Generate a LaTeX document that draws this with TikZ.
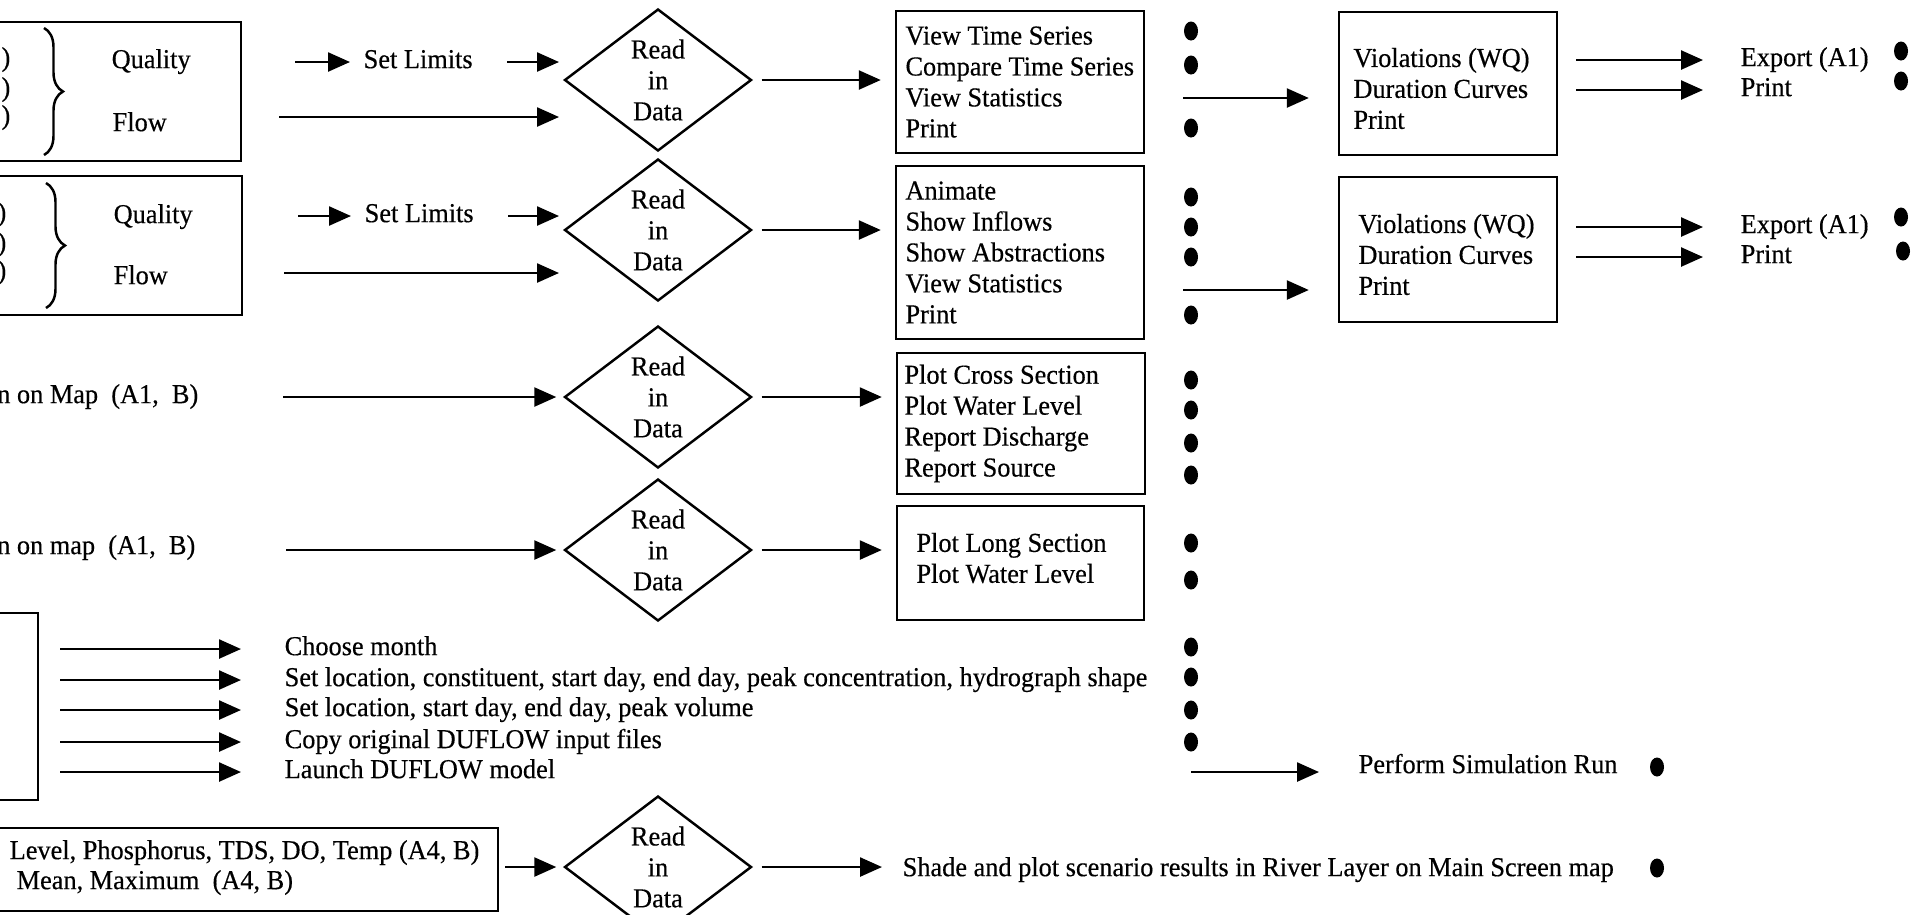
\documentclass[tikz,border=0pt]{standalone}
\usepackage{fontspec}
\setmainfont{Liberation Serif}[FakeStretch=0.96, FakeBold=0.4]
\usetikzlibrary{arrows.meta, shapes.geometric, decorations.pathreplacing}
\tikzset{
    every node/.style={font=\fontsize{7.8}{8.8}\selectfont},
    box/.style={draw, rectangle, line width=0.7pt, inner sep=0pt},
    choice/.style={draw, diamond, line width=0.7pt, inner sep=0pt,
        minimum width=1.87cm, minimum height=1.42cm, align=center},
    item/.style={inner sep=0pt, anchor=west, align=left},
    lbl/.style={inner sep=0pt, anchor=west, text height=5pt, text depth=1.5pt},
    bullet/.style={ellipse, fill, inner sep=0pt, minimum width=0.14cm,
        minimum height=0.19cm},
    arr/.style={-{Triangle[length=0.22cm, width=0.19cm]}, line width=0.7pt},
    curly/.style={decorate, decoration={brace, amplitude=0.19cm}, line width=0.7pt}
}

\begin{document}
\begin{tikzpicture}
  \useasboundingbox (0cm, 0cm) rectangle (19.12cm, -9.14cm);
  \clip (0cm, 0cm) rectangle (19.12cm, -9.14cm);

  % input boxes on the left
  \node (b1) [box, minimum width=2.61cm, minimum height=1.39cm] at (1.105cm, -0.915cm) {};
  \node (b2) [box, minimum width=2.62cm, minimum height=1.39cm] at (1.11cm, -2.455cm) {};
  \node (bE) [box, minimum width=0.58cm, minimum height=1.87cm] at (0.09cm, -7.065cm) {};
  \node (bF) [box, minimum width=5.18cm, minimum height=0.83cm] at (2.39cm, -8.695cm) {};

  \node (p1) [lbl, anchor=east] at (0.11cm, -0.60cm) {)};
  \node (p2) [lbl, anchor=east] at (0.11cm, -0.90cm) {)};
  \node (p3) [lbl, anchor=east] at (0.11cm, -1.18cm) {)};
  \node (p4) [lbl, anchor=east] at (0.07cm, -2.15cm) {)};
  \node (p5) [lbl, anchor=east] at (0.07cm, -2.45cm) {)};
  \node (p6) [lbl, anchor=east] at (0.07cm, -2.73cm) {)};
  \draw[curly] (0.44cm, -0.28cm) -- (0.44cm, -1.55cm);
  \draw[curly] (0.46cm, -1.83cm) -- (0.46cm, -3.08cm);
  \node (q1) [lbl] at (1.11cm, -0.62cm) {Quality};
  \node (f1) [lbl] at (1.12cm, -1.25cm) {Flow};
  \node (q2) [lbl] at (1.13cm, -2.17cm) {Quality};
  \node (f2) [lbl] at (1.13cm, -2.78cm) {Flow};

  \node (m3) [lbl, anchor=east] at (1.99cm, -3.97cm) {n on Map~ (A1,~ B)};
  \node (m4) [lbl, anchor=east] at (1.96cm, -5.48cm) {n on map~ (A1,~ B)};

  \node (w1) [lbl] at (0.09cm, -8.53cm) {Level, Phosphorus, TDS, DO, Temp (A4, B)};
  \node (w2) [lbl] at (0.16cm, -8.83cm) {Mean, Maximum~ (A4, B)};

  % set limits
  \node (sl1) [lbl] at (3.63cm, -0.62cm) {Set Limits};
  \node (sl2) [lbl] at (3.64cm, -2.16cm) {Set Limits};
  \coordinate (s1) at (2.95cm, -0.62cm);
  \coordinate (s2) at (2.98cm, -2.16cm);
  \coordinate (e1) at (5.59cm, -0.62cm);
  \coordinate (e2) at (5.59cm, -2.16cm);
  \coordinate (fs1) at (2.79cm, -1.17cm);
  \coordinate (fe1) at (5.59cm, -1.17cm);
  \coordinate (fs2) at (2.84cm, -2.73cm);
  \coordinate (fe2) at (5.59cm, -2.73cm);
  \coordinate (c3) at (2.83cm, -3.97cm);
  \coordinate (c4) at (2.86cm, -5.50cm);

  % read in data
  \node (d1) [choice] at (6.58cm, -0.80cm) {Read\\in\\Data};
  \node (d2) [choice] at (6.58cm, -2.30cm) {Read\\in\\Data};
  \node (d3) [choice] at (6.58cm, -3.97cm) {Read\\in\\Data};
  \node (d4) [choice] at (6.58cm, -5.50cm) {Read\\in\\Data};
  \node (d6) [choice] at (6.58cm, -8.67cm) {Read\\in\\Data};

  % option boxes
  \node (bA) [box, minimum width=2.48cm, minimum height=1.42cm] at (10.20cm, -0.82cm) {};
  \node (bB) [box, minimum width=2.48cm, minimum height=1.73cm] at (10.20cm, -2.525cm) {};
  \node (bC) [box, minimum width=2.48cm, minimum height=1.41cm] at (10.21cm, -4.235cm) {};
  \node (bD) [box, minimum width=2.47cm, minimum height=1.14cm] at (10.205cm, -5.63cm) {};
  \node (tA) [item] at ([xshift=0.10cm]bA.west) {View Time Series\\Compare Time Series\\View Statistics\\Print};
  \node (tB) [item] at ([xshift=0.10cm]bB.west) {Animate\\Show Inflows\\Show Abstractions\\View Statistics\\Print};
  \node (tC) [item] at ([xshift=0.08cm]bC.west) {Plot Cross Section\\Plot Water Level\\Report Discharge\\Report Source};
  \node (tD) [item] at ([xshift=0.20cm, yshift=0.05cm]bD.west) {Plot Long Section\\Plot Water Level};

  \node (bV1) [box, minimum width=2.18cm, minimum height=1.43cm] at (14.48cm, -0.835cm) {};
  \node (bV2) [box, minimum width=2.18cm, minimum height=1.45cm] at (14.48cm, -2.495cm) {};
  \node (tV1) [item] at ([xshift=0.15cm, yshift=-0.05cm]bV1.west) {Violations (WQ)\\Duration Curves\\Print};
  \node (tV2) [item] at ([xshift=0.20cm, yshift=-0.05cm]bV2.west) {Violations (WQ)\\Duration Curves\\Print};

  \node (x1) [lbl] at (17.40cm, -0.60cm) {Export (A1)};
  \node (x2) [lbl] at (17.40cm, -0.90cm) {Print};
  \node (x3) [lbl] at (17.40cm, -2.27cm) {Export (A1)};
  \node (x4) [lbl] at (17.40cm, -2.57cm) {Print};

  % scenario settings
  \node (m1) [lbl] at (2.84cm, -6.49cm) {Choose month};
  \node (m2) [lbl] at (2.84cm, -6.80cm) {Set location, constituent, start day, end day, peak concentration, hydrograph shape};
  \node (m5) [lbl] at (2.84cm, -7.10cm) {Set location, start day, end day, peak volume};
  \node (m6) [lbl] at (2.84cm, -7.42cm) {Copy original DUFLOW input files};
  \node (m7) [lbl] at (2.84cm, -7.72cm) {Launch DUFLOW model};
  \node (run) [lbl] at (13.58cm, -7.67cm) {Perform Simulation Run};
  \node (sh) [lbl] at (9.02cm, -8.70cm) {Shade and plot scenario results in River Layer on Main Screen map};

  % bullets
  \node (a1) [bullet] at (11.91cm, -0.31cm) {}; \node (a2) [bullet] at (11.91cm, -0.65cm) {};
  \node (a3) [bullet] at (11.91cm, -1.28cm) {};
  \node (a4) [bullet] at (11.91cm, -1.97cm) {}; \node (a5) [bullet] at (11.91cm, -2.27cm) {};
  \node (a6) [bullet] at (11.91cm, -2.57cm) {}; \node (a7) [bullet] at (11.91cm, -3.15cm) {};
  \node (a8) [bullet] at (11.91cm, -3.80cm) {}; \node (a9) [bullet] at (11.91cm, -4.10cm) {};
  \node (a10) [bullet] at (11.91cm, -4.43cm) {}; \node (a11) [bullet] at (11.91cm, -4.75cm) {};
  \node (a12) [bullet] at (11.91cm, -5.43cm) {}; \node (a13) [bullet] at (11.91cm, -5.80cm) {};
  \node (a14) [bullet] at (11.91cm, -6.47cm) {}; \node (a15) [bullet] at (11.91cm, -6.77cm) {};
  \node (a16) [bullet] at (11.91cm, -7.10cm) {}; \node (a17) [bullet] at (11.91cm, -7.42cm) {};
  \node (g1) [bullet] at (19.01cm, -0.51cm) {}; \node (g2) [bullet] at (19.01cm, -0.81cm) {};
  \node (g3) [bullet] at (19.01cm, -2.17cm) {}; \node (g4) [bullet] at (19.03cm, -2.51cm) {};
  \node (g5) [bullet] at (16.57cm, -7.67cm) {}; \node (g6) [bullet] at (16.57cm, -8.68cm) {};
  \coordinate (v1) at (11.83cm, -0.98cm);
  \coordinate (v2) at (11.83cm, -2.90cm);
  \coordinate (ps) at (11.91cm, -7.72cm);

  % arrows
  \draw[arr, shorten >=0.13cm] (s1) -- (sl1.west); \draw[arr, shorten <=0.34cm] (sl1.east) -- (e1);
  \draw[arr, shorten >=0.13cm] (s2) -- (sl2.west); \draw[arr, shorten <=0.34cm] (sl2.east) -- (e2);
  \draw[arr] (fs1) -- (fe1); \draw[arr] (fs2) -- (fe2);
  \draw[arr, shorten >=0.07cm] (c3) -- (d3.west); \draw[arr, shorten >=0.07cm] (c4) -- (d4.west);
  \draw[arr, shorten <=0.06cm, shorten >=0.07cm] (bF.east |- d6) -- (d6.west);

  \draw[arr, shorten <=0.09cm, shorten >=0.14cm] (d1.east) -- (d1.east -| bA.west);
  \draw[arr, shorten <=0.09cm, shorten >=0.14cm] (d2.east) -- (d2.east -| bB.west);
  \draw[arr, shorten <=0.09cm, shorten >=0.14cm] (d3.east) -- (d3.east -| bC.west);
  \draw[arr, shorten <=0.09cm, shorten >=0.14cm] (d4.east) -- (d4.east -| bD.west);
  \draw[arr, shorten <=0.09cm, shorten >=0.20cm] (d6.east) -- (d6.east -| sh.west);

  \draw[arr, shorten >=0.29cm] (v1) -- (v1 -| bV1.west);
  \draw[arr, shorten >=0.29cm] (v2) -- (v2 -| bV2.west);
  \draw[arr, shorten <=0.18cm, shorten >=0.37cm] (x1.west -| bV1.east) -- (x1.west);
  \draw[arr, shorten <=0.18cm, shorten >=0.37cm] (x2.west -| bV1.east) -- (x2.west);
  \draw[arr, shorten <=0.18cm, shorten >=0.37cm] (x3.west -| bV2.east) -- (x3.west);
  \draw[arr, shorten <=0.18cm, shorten >=0.37cm] (x4.west -| bV2.east) -- (x4.west);

  \draw[arr, shorten <=0.21cm, shorten >=0.43cm] (m1.west -| bE.east) -- (m1.west);
  \draw[arr, shorten <=0.21cm, shorten >=0.43cm] (m2.west -| bE.east) -- (m2.west);
  \draw[arr, shorten <=0.21cm, shorten >=0.43cm] (m5.west -| bE.east) -- (m5.west);
  \draw[arr, shorten <=0.21cm, shorten >=0.43cm] (m6.west -| bE.east) -- (m6.west);
  \draw[arr, shorten <=0.21cm, shorten >=0.43cm] (m7.west -| bE.east) -- (m7.west);
  \draw[arr, shorten >=0.39cm] (ps) -- (ps -| run.west);

\end{tikzpicture}
\end{document}
